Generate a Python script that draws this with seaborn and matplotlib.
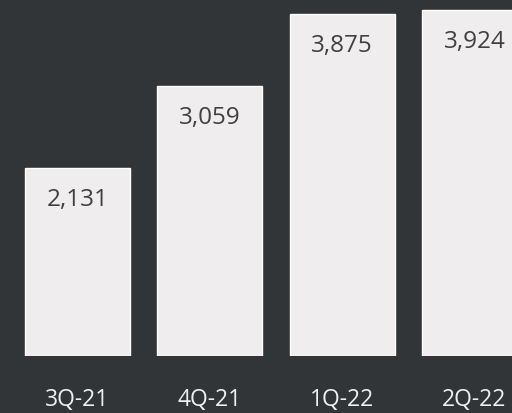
import matplotlib
matplotlib.use("Agg")
import matplotlib.pyplot as plt
import seaborn as sns
import pandas as pd

quarters = ["3Q-21", "4Q-21", "1Q-22", "2Q-22"]
values = [2131, 3059, 3875, 3924]

bg = "#323538"
bar_color = "#efedee"

df = pd.DataFrame({"quarter": quarters, "value": values})

sns.set_style("dark")
plt.rcParams['font.family'] = ['Open Sans', 'DejaVu Sans']

fig = plt.figure(figsize=(5.12, 4.14), dpi=100, facecolor=bg)
ax = fig.add_axes([0, 57 / 414, 1, 357 / 414])
ax.set_facecolor(bg)

sns.barplot(data=df, x="quarter", y="value", color=bar_color, width=0.794,
            saturation=1, ax=ax)

# value labels sit inside the top of each bar
for i, v in enumerate(values):
    ax.annotate(f"{v:,}", xy=(i, v), xytext=(0, -22), textcoords="offset points",
                ha="center", va="center", fontsize=17.5, color="#404040")

ax.set_xlim(-0.586, 3.284)
ax.set_ylim(0, 4049)
ax.set_yticks([])
ax.set_xlabel("")
ax.set_ylabel("")
ax.tick_params(axis="x", length=0, pad=22, labelsize=16.5, labelcolor="#f0f0f0")
for s in ax.spines.values():
    s.set_visible(False)
ax.grid(False)

fig.savefig("out.png", dpi=100, facecolor=bg)
